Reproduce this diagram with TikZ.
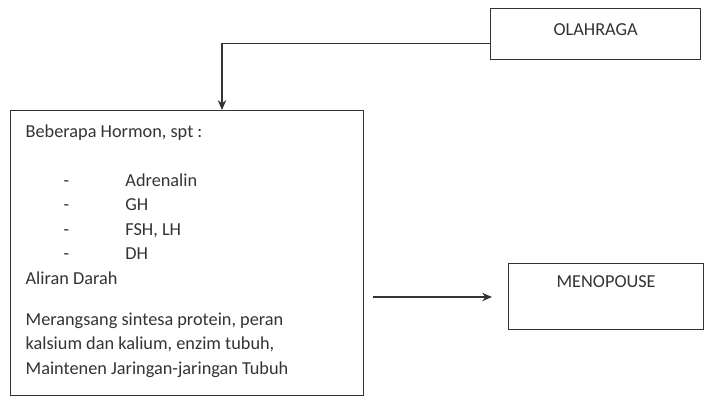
\documentclass[tikz,border=0pt]{standalone}
\usepackage{fontspec}
\setmainfont{Carlito}
\usepackage{tikz}
\usetikzlibrary{arrows.meta,positioning}

\begin{document}
\begin{tikzpicture}[x=0.025cm, y=-0.025cm, >={Stealth[length=7pt,width=6pt]}, line width=0.9pt, inner sep=0pt,
  font=\fontsize{13}{17.4}\selectfont]
\tikzstyle{box}=[draw=black!80, rectangle, anchor=north west]
\tikzstyle{txt}=[text=black!80]
\useasboundingbox (0,0) rectangle (704,397);

\node [box, minimum width=210*0.025cm, minimum height=51*0.025cm] (olahraga) at (490,8) {};
\node [txt, anchor=north] at ([yshift=-0.38cm]olahraga.north) {OLAHRAGA};

\node [box, minimum width=353*0.025cm, minimum height=285*0.025cm] (hormon) at (10,110) {};
\node [txt, anchor=north west, align=left] (isi) at (25,124) {%
Beberapa Hormon, spt :\\[17.4pt]
\hspace*{27pt}-\hspace*{40pt}Adrenalin\\
\hspace*{27pt}-\hspace*{40pt}GH\\
\hspace*{27pt}-\hspace*{40pt}FSH, LH\\
\hspace*{27pt}-\hspace*{40pt}DH\\
Aliran Darah\\[12pt]
Merangsang sintesa protein, peran\\
kalsium dan kalium, enzim tubuh,\\
Maintenen Jaringan-jaringan Tubuh};

\node [box, minimum width=195*0.025cm, minimum height=66*0.025cm] (menopouse) at (508,263) {};
\node [txt, anchor=north] at ([yshift=-0.3cm]menopouse.north) {MENOPOUSE};

\coordinate (mulai) at (373,297);
\coordinate (ujung) at (492,297);

\draw [->, draw=black!80] ([yshift=-0.24cm]olahraga.west) -| (hormon.north -| 222,0);
\draw [->, draw=black!80] (mulai) -- (ujung);
\end{tikzpicture}
\end{document}
